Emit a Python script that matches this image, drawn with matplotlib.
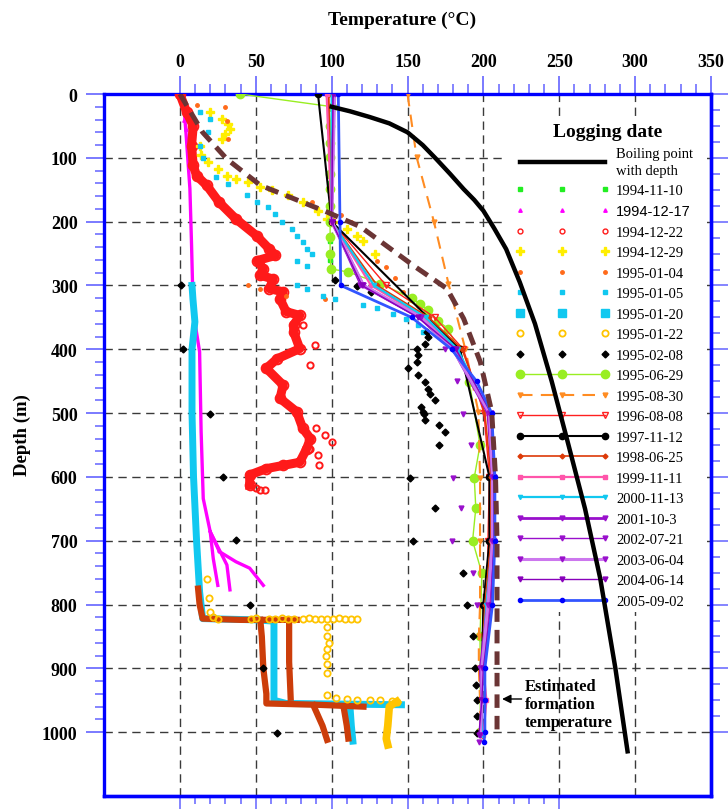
import numpy as np
import matplotlib.pyplot as plt
from matplotlib.lines import Line2D
from matplotlib.patches import Rectangle

plt.rcParams['font.family'] = ['Liberation Serif', 'DejaVu Serif']

# ---- data: temperature (C) vs depth (m) ----
boil_t = [100, 112, 125, 138, 150, 160, 169, 178, 187, 194, 200, 207, 215, 224, 234, 245, 255, 267, 277, 287, 295]
boil_d = [20, 27, 36, 46, 60, 80, 102, 125, 149, 166, 183, 210, 243, 295, 360, 450, 540, 650, 759, 900, 1030]

form_t = [0, 15, 31, 53, 75, 97, 119, 154, 176, 187, 198, 205.5, 208, 209, 209]
form_d = [0, 60, 102, 143, 164, 185, 208, 269, 305, 352, 420, 498, 600, 700, 1005]

# 1994-11-10 (mostly hidden under the 1995-06-29 column)
g1110_t = [99, 99, 99, 99]
g1110_d = [60, 140, 230, 260]

# 1994-12-17
m1217_main_t = [0, 3, 4, 6.6, 7.7, 8.8, 13, 14, 15.4, 20, 26]
m1217_main_d = [0, 30, 60, 148, 237, 341, 404, 529, 634, 686, 717]
m1217_a_t = [20, 22, 25]
m1217_a_d = [686, 728, 770]
m1217_b_t = [20, 31, 33]
m1217_b_d = [686, 738, 777]
m1217_c_t = [26, 37, 46, 55]
m1217_c_d = [717, 733, 743, 770]
m1217_top_t = [2, 5, 3, 8, 4, 7]
m1217_top_d = [20, 25, 40, 45, 55, 58]

# 1994-12-22
r1222_t = [0, 4.4, 8.8, 7.7, 8.8, 11, 17.6, 26, 37, 50.5, 59, 63, 51, 55, 53, 61.5, 59, 68, 66, 70,
           79, 75, 75, 79, 64, 57, 68, 66, 77, 81, 86, 83.5, 79, 68, 57, 46, 46]
r1222_d = [0, 28, 50, 81, 112, 128, 143, 170, 196, 222, 243, 253, 261, 274, 284, 290, 305, 310, 321, 341,
           347, 362, 373, 399, 415, 430, 456, 477, 498, 524, 540, 556, 577, 582, 587, 597, 613]
r1222_x_t = [81, 89, 86, 90, 95.6, 100, 85.7, 91, 92, 50, 53, 56]
r1222_x_d = [362, 394, 425, 524, 535, 545, 556, 566, 582, 618, 620, 621]

# 1994-12-29
y1229_t = [20, 28, 31.6, 33, 29.7, 28, 13, 14, 18.5, 25, 31, 37, 45, 53, 61, 71, 81, 91, 97, 101,
           110, 116.5, 121, 128.5]
y1229_d = [28, 39, 47, 55, 63, 70, 81, 96, 107, 117, 128, 133, 138, 146, 151, 159, 169, 183, 196, 200,
           211, 222, 230, 250]

# 1995-01-04
o0104_t = [11, 29.7, 31, 31.6, 86.8, 106, 113, 129.6, 136, 141.7, 147, 95.6, 45, 52.7, 70]
o0104_d = [18, 20, 42, 70, 170, 190, 200, 261, 271, 289, 310, 321, 300, 305, 316]

# 1995-01-05
c0105_t = [13, 20, 18.5, 13, 15, 24, 31.6, 44, 51, 58, 62.6, 67, 73.6, 77, 81, 83.5, 86.8,
           77, 83.5, 77, 83.5, 94.5, 102, 121, 130, 140.6, 149, 157, 160]
c0105_d = [28, 39, 60, 81, 100, 130, 141, 159, 170, 177, 188, 200, 211, 222, 232, 243, 250,
           261, 269, 300, 305, 316, 321, 331, 336, 344, 352, 362, 373]

# 1995-01-20
c0120_col_t = [8, 8.6, 9.9, 8, 8, 9, 11, 13, 15, 50, 62, 62, 70, 146]
c0120_col_d = [300, 321, 357, 400, 500, 600, 700, 780, 822, 824, 826, 950, 955, 957]
c0120_low_t = [112, 113, 114]
c0120_low_d = [957, 990, 1014]

# 1995-01-22
g0122_a_t = [18, 19, 20, 22, 25, 47, 50, 59, 63, 67, 71, 75, 81, 85, 89, 93, 97, 101, 105, 109, 113, 117]
g0122_a_d = [760, 790, 812, 820, 822, 822, 821, 822, 822, 821, 822, 822, 822, 821, 822, 822, 823, 822, 821, 822, 822, 822]
g0122_b_t = [97, 97, 98, 97, 96, 97, 97]
g0122_b_d = [835, 850, 860, 870, 880, 893, 908]
g0122_c_t = [97, 103, 110, 117, 125, 132, 140, 143]
g0122_c_d = [942, 946, 948, 949, 950, 950, 951, 952]
g0122_d_t = [143, 138, 137, 136, 137]
g0122_d_d = [952, 960, 990, 1010, 1020]

# 1995-02-08
k0208_t = [1, 2, 19.8, 28.5, 37, 46, 55, 63.7, 102, 116.5, 126, 162.6, 163.7, 161.5, 156, 157, 156,
           150.5, 157, 161.5, 163.7, 164.8, 168, 159, 160, 161, 161.5, 171, 175, 171, 151.6, 168,
           153.8, 186.8, 189, 193, 194.5, 195, 195.5, 195.5, 195.5]
k0208_d = [300, 400, 501, 600, 699, 800, 900, 1002, 292, 301, 310, 373, 381, 391, 399, 409, 420,
           430, 441, 451, 462, 470, 480, 490, 498, 502, 511, 519, 529, 550, 601, 649,
           700, 750, 800, 850, 900, 926, 949, 975, 1002]

# 1995-06-29
g0629_t = [39.5, 100.5, 99, 99, 99, 99, 99, 99, 99, 99, 99, 99.5, 111, 132, 152.7, 158, 163.7, 170,
           176.8, 183, 190.7, 197.8, 194, 195, 192.9, 199, 197.8, 198]
g0629_d = [0, 20, 50, 76, 99, 125, 149, 175, 200, 224, 250, 274, 279, 297, 320, 329, 339, 355,
           368, 399, 451, 550, 601, 649, 700, 751, 850, 1000]

# 1995-08-30
o0830_t = [150, 156, 167.4, 177, 188, 196.7, 197.8, 197.8, 197.8, 197, 197, 197.8, 197.8]
o0830_d = [0, 99, 200, 297, 399, 498, 601, 701, 801, 850, 900, 950, 1000]

# later logs share depth stations
late_d = [0, 200, 300, 350, 400, 500, 600, 700, 800, 900, 950, 1005]
r0808_t = [98, 100, 136, 168, 186.8, 200.4, 204, 203, 203, 199, 199, 199]
r0625_t = [98, 100, 130, 164, 186, 201, 205, 205, 201, 199, 199, 199]
p1111_t = [96.7, 100, 126, 161, 182, 203, 207, 206, 204, 200, 202, 200]
c1113_t = [100, 100, 128, 162, 183, 204, 206, 206, 202, 199, 199, 199]
v1003_t = [101.5, 100, 121, 158, 180, 203, 206, 206, 203, 198, 199, 198]
v0721_t = [101, 100, 119, 157, 181, 204, 207, 207, 204, 199, 199, 197.8]
v0604_t = [102, 100, 121, 159, 180, 204, 206, 206, 203, 199, 199, 198]
v0614_t = [101, 100, 120, 157, 182, 205, 207, 207, 205, 200, 199, 197]

k1112_t = [91, 100, 184.6, 204, 204, 200, 199, 199]
k1112_d = [0, 200, 400, 600, 700, 800, 900, 1000]

b0902_t = [104.4, 105.5, 106, 152.7, 179, 195.5, 205.5, 207.6, 207.6, 206, 201, 201, 201, 200.4]
b0902_d = [0, 200, 300, 350, 400, 450, 500, 600, 700, 800, 900, 950, 1000, 1016]

v1003_pts_t = [120, 174.7, 182.8, 186.3, 191.6, 179.8, 185, 179, 193, 196, 197]
v1003_pts_d = [300, 399, 449, 501, 550, 601, 649, 700, 750, 800, 1015]

# dense band at the bottom left
br_a_t = [12, 13, 15, 40, 77]
br_a_d = [775, 800, 822, 824, 824]
br_b_t = [53, 54, 55, 57, 57, 90, 121]
br_b_d = [824, 850, 900, 940, 955, 957, 960]
br_c_t = [72, 72, 73]
br_c_d = [824, 890, 946]
br_d_t = [88, 94, 97]
br_d_d = [958, 990, 1012]
br_e_t = [108, 110, 111]
br_e_d = [962, 990, 1010]

labels = ['Boiling point\nwith depth', '1994-11-10', '1994-12-17', '1994-12-22', '1994-12-29',
          '1995-01-04', '1995-01-05', '1995-01-20', '1995-01-22', '1995-02-08', '1995-06-29',
          '1995-08-30', '1996-08-08', '1997-11-12', '1998-06-25', '1999-11-11', '2000-11-13',
          '2001-10-3', '2002-07-21', '2003-06-04', '2004-06-14', '2005-09-02']

styles = [
    dict(color='black', lw=3.2),
    dict(color='#22ee22', ls='none', marker='s', ms=2.5),
    dict(color='#ff00ff', ls='none', marker='^', ms=2.5),
    dict(color='#ff1a1a', ls='none', marker='o', ms=3.5, mfc='none', mew=1),
    dict(color='#ffee00', ls='none', marker='P', ms=6),
    dict(color='#ff6a1a', ls='none', marker='o', ms=2.5),
    dict(color='#11c8f0', ls='none', marker='s', ms=3),
    dict(color='#11c8f0', ls='none', marker='s', ms=5.5),
    dict(color='#ffc400', ls='none', marker='o', ms=4.5, mfc='none', mew=1.3),
    dict(color='black', ls='none', marker='D', ms=3.5),
    dict(color='#99ee22', lw=1, marker='o', ms=6),
    dict(color='#ff8c22', lw=1.5, ls=(0, (6, 4)), marker='v', ms=3.5),
    dict(color='#ff2020', lw=1, marker='v', ms=4.5, mfc='none', mew=1),
    dict(color='black', lw=1.5, marker='o', ms=4.5),
    dict(color='#dd3a08', lw=1.2, marker='D', ms=2.5),
    dict(color='#ff55aa', lw=1.6, marker='s', ms=3.5),
    dict(color='#11c8f0', lw=1.6, marker='v', ms=3),
    dict(color='#9910cc', lw=2, marker='v', ms=3.5),
    dict(color='#9910cc', lw=1, marker='v', ms=3.5),
    dict(color='#cc77ee', lw=2.2, marker='v', ms=3.5, mfc='#9910cc', mec='#9910cc'),
    dict(color='#8800bb', lw=1, marker='v', ms=3.5),
    dict(color='#3355ff', lw=2, marker='o', ms=3, mfc='#0000ff', mec='#0000ff'),
]

fig = plt.figure(figsize=(7.28, 8.12), dpi=100)
ax = fig.add_axes([104 / 728, 1 - 797 / 812, 607 / 728, 702 / 812])
ax.set_xlim(-50, 350)
ax.set_ylim(1100, 0)

# dashed grid
for t in range(0, 301, 50):
    ax.axvline(t, color='#3a3a3a', lw=1, ls=(0, (6, 4)), zorder=1)
for d in range(100, 1001, 100):
    ax.axhline(d, color='#3a3a3a', lw=1, ls=(0, (6, 4)), zorder=1)

# white box behind the legend
ax.add_patch(Rectangle((0.664, 0.262), 0.329, 0.707, transform=ax.transAxes,
                       facecolor='white', edgecolor='none', zorder=2))

st = styles
# scatter-like logs
ax.plot(g1110_t, g1110_d, zorder=3, **st[1])
for tt, dd in [(m1217_main_t, m1217_main_d), (m1217_a_t, m1217_a_d),
               (m1217_b_t, m1217_b_d), (m1217_c_t, m1217_c_d)]:
    ax.plot(tt, dd, color='#ff00ff', lw=2.4, zorder=3)
ax.plot(m1217_top_t, m1217_top_d, zorder=3, **st[2])

ax.plot(r1222_t, r1222_d, color='#ff1a1a', lw=6.5, zorder=3)
ax.plot(r1222_t, r1222_d, zorder=3, **dict(st[3], ms=7, mew=1.4))
ax.plot(r1222_x_t, r1222_x_d, zorder=3, **dict(st[3], ms=4.5, mew=1.4))

ax.plot(y1229_t, y1229_d, zorder=3, **st[4])
ax.plot(o0104_t, o0104_d, zorder=3, **st[5])
ax.plot(c0105_t, c0105_d, zorder=3, **st[6])

ax.plot(c0120_col_t, c0120_col_d, color='#11c8f0', lw=5, zorder=3)
ax.plot(c0120_low_t, c0120_low_d, color='#11c8f0', lw=5, zorder=3)

for tt, dd in [(br_a_t, br_a_d), (br_b_t, br_b_d), (br_c_t, br_c_d), (br_d_t, br_d_d), (br_e_t, br_e_d)]:
    ax.plot(tt, dd, color='#cc3d0a', lw=4.5, zorder=3.2)

ax.plot(g0122_a_t, g0122_a_d, zorder=3.3, **st[8])
ax.plot(g0122_b_t, g0122_b_d, zorder=3.3, **st[8])
ax.plot(g0122_c_t, g0122_c_d, zorder=3.3, **st[8])
ax.plot(g0122_d_t, g0122_d_d, color='#ffc400', lw=5.5, zorder=3.3)

ax.plot(k0208_t, k0208_d, zorder=3.5, **st[9])

# connected logs
ax.plot(g0629_t, g0629_d, zorder=3.4, **st[10])
ax.plot(o0830_t, o0830_d, zorder=3.4, **st[11])
ax.plot(r0808_t, late_d, zorder=3.6, **st[12])
ax.plot(k1112_t, k1112_d, zorder=3.6, **st[13])
ax.plot(r0625_t, late_d, zorder=3.6, **st[14])
ax.plot(p1111_t, late_d, zorder=3.6, **st[15])
ax.plot(c1113_t, late_d, zorder=3.6, **st[16])
ax.plot(v1003_t, late_d, zorder=3.6, **st[17])
ax.plot(v1003_pts_t, v1003_pts_d, zorder=3.6, **dict(st[17], ls='none'))
ax.plot(v0721_t, late_d, zorder=3.6, **st[18])
ax.plot(v0604_t, late_d, zorder=3.6, **st[19])
ax.plot(v0614_t, late_d, zorder=3.6, **st[20])
ax.plot(b0902_t, b0902_d, zorder=3.7, **st[21])

ax.plot(form_t, form_d, color='#6b3535', lw=3.6, ls=(0, (2.7, 1.6)), zorder=3.8)
ax.plot(boil_t, boil_d, zorder=6, **st[0])

# annotation
ax.annotate('', xy=(210.5, 948), xytext=(227, 948),
            arrowprops=dict(arrowstyle='-|>', color='black', lw=1, mutation_scale=13))
ax.text(227.5, 956, 'Estimated\nformation\ntemperature', fontsize=12, fontweight='bold',
        ha='left', va='center', linespacing=1.15)

# legend
handles = [Line2D([], [], **s) for s in styles]
ax.text(0.829, 0.946, 'Logging date', transform=ax.transAxes, ha='center', va='center',
        fontsize=14, fontweight='bold', zorder=7)
leg = ax.legend(handles, labels, loc='upper left', bbox_to_anchor=(0.678, 0.925),
                frameon=False, numpoints=3, handlelength=6.4, handletextpad=0.5,
                labelspacing=0.5, borderpad=0, borderaxespad=0, prop={'size': 10.5})
leg.set_zorder(2.5)
leg.get_texts()[0].set_linespacing(1.4)
leg.get_texts()[2].set_fontfamily('Liberation Sans')

# axes frame and ticks
blue = '#0000ff'
tickc = '#6f6fff'
for sp in ax.spines.values():
    sp.set_color(blue)
    sp.set_linewidth(2.4)

ax.xaxis.tick_top()
ax.set_xticks(np.arange(0, 351, 50))
ax.set_xticks(np.arange(0, 351, 10), minor=True)
ax.set_xticklabels([str(v) for v in range(0, 351, 50)], fontweight='bold', fontsize=13)
ax.tick_params(axis='x', which='major', direction='out', length=13, width=1.3, color=tickc, pad=4)
ax.tick_params(axis='x', which='minor', direction='out', length=7, width=1.2, color=tickc)

ax.set_yticks(np.arange(0, 1001, 100))
ax.set_yticks(np.arange(0, 1001, 20), minor=True)
ax.set_yticklabels([str(v) for v in range(0, 1001, 100)], fontweight='bold', fontsize=13)
ax.tick_params(axis='y', which='major', direction='out', length=13, width=1.3, color=tickc, pad=6)
ax.tick_params(axis='y', which='minor', direction='out', length=6.5, width=1.2, color=tickc)

secx = ax.secondary_xaxis('bottom')
secx.set_xticks(np.arange(0, 251, 50))
secx.set_xticks(np.arange(0, 251, 10), minor=True)
secx.tick_params(axis='x', which='both', labelbottom=False, direction='out', color=tickc, width=1.2)
secx.tick_params(axis='x', which='major', length=9)
secx.tick_params(axis='x', which='minor', length=6)
secx.spines['bottom'].set_color(blue)
secx.spines['bottom'].set_linewidth(2.4)

secy = ax.secondary_yaxis('right')
secy.set_yticks(np.arange(0, 1001, 100))
secy.set_yticks(np.arange(0, 1001, 25), minor=True)
secy.tick_params(axis='y', which='both', labelright=False, direction='out', color=tickc, width=1.2)
secy.tick_params(axis='y', which='major', length=13)
secy.tick_params(axis='y', which='minor', length=6.5)
secy.spines['right'].set_color(blue)
secy.spines['right'].set_linewidth(2.4)

fig.text(402 / 728, 1 - 20 / 812, 'Temperature (\u00b0C)', ha='center', va='center',
         fontsize=14, fontweight='bold')
fig.text(22 / 728, 1 - 435 / 812, 'Depth (m)', rotation=90, ha='center', va='center',
         fontsize=13.5, fontweight='bold')

fig.savefig('out.png', dpi=100)
